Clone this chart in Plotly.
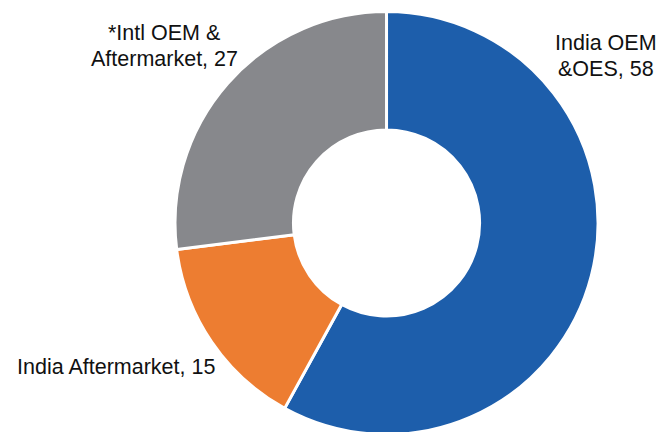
import plotly.graph_objects as go

# revenue mix (%)
labels = ["India OEM\n&OES", "India Aftermarket", "*Intl OEM &\nAftermarket"]
values = [58, 15, 27]
colors = ["#1d5eab", "#ed7d31", "#87888c"]

# label anchor (paper coords) per slice
label_pos = [(0.8966, 0.8895), (0.162, 0.169), (0.234, 0.9115)]

FONT = "Liberation Sans Narrow, Arial Narrow, Liberation Sans, Arial"

fig = go.Figure()
fig.add_trace(go.Pie(
    labels=[l.replace("\n", " ") for l in labels],
    values=values,
    hole=0.44,
    sort=False,
    direction="clockwise",
    rotation=0,
    marker=dict(colors=colors, line=dict(color="white", width=3)),
    textinfo="none",
    hoverinfo="label+value",
    showlegend=False,
    domain=dict(x=[0.2504, 0.8846], y=[0.0127, 0.9919]),
))

for lab, val, (px_, py_) in zip(labels, values, label_pos):
    lines = lab.split("\n")
    lines[-1] = f"{lines[-1]}, {val}"
    n = len(lines)
    for i, line in enumerate(lines):
        fig.add_annotation(
            x=px_, y=py_ - (i - (n - 1) / 2) * 0.06,
            xref="paper", yref="paper",
            text=line, showarrow=False,
            xanchor="center", yanchor="middle",
            font=dict(family=FONT, size=21.5, color="#111111"),
        )

fig.update_layout(
    width=667, height=432,
    margin=dict(l=0, r=0, t=0, b=0),
    paper_bgcolor="white",
    plot_bgcolor="white",
)

fig.write_html("out.html")
